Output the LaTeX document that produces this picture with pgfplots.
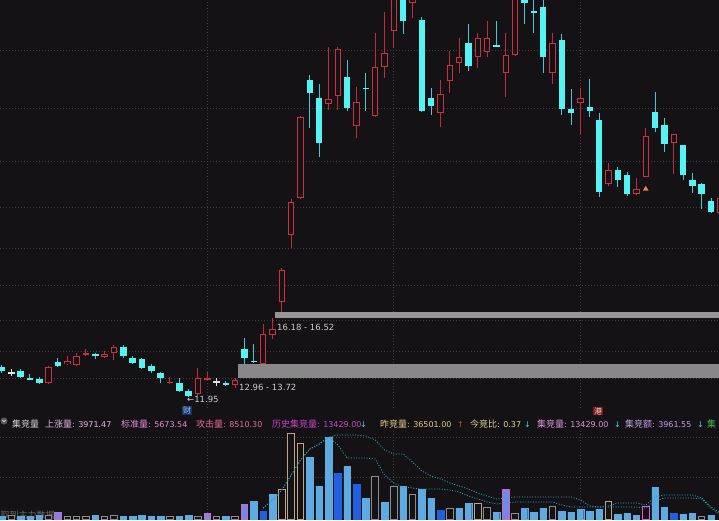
\documentclass[border=0pt]{standalone}
\usepackage{fontspec}
\setmainfont{DejaVu Sans}
\newfontfamily\cjk{Noto Sans CJK SC}
\usepackage{pgfplots}
\usepackage{pgfplotstable}
\pgfplotsset{compat=1.18}

\definecolor{bg}{RGB}{20,18,20}
\definecolor{gridc}{RGB}{62,62,62}
\definecolor{redc}{RGB}{205,48,64}
\definecolor{redw}{RGB}{190,45,60}
\definecolor{cyanc}{RGB}{84,244,244}
\definecolor{cyanw}{RGB}{70,200,210}
\definecolor{whitec}{RGB}{225,225,225}
\definecolor{band1}{RGB}{136,136,136}
\definecolor{band2}{RGB}{150,150,150}
\definecolor{annot}{RGB}{205,205,205}
\definecolor{vlight}{RGB}{95,170,225}
\definecolor{vdark}{RGB}{35,95,225}
\definecolor{vgray}{RGB}{140,140,140}
\definecolor{vtan}{RGB}{190,165,135}
\definecolor{vpink}{RGB}{220,95,200}
\definecolor{vpinkfill}{RGB}{110,140,230}
\definecolor{linec}{RGB}{45,165,185}
\definecolor{nodata}{RGB}{105,105,105}
\definecolor{orangec}{RGB}{240,135,70}
\definecolor{caibg}{RGB}{25,55,100}
\definecolor{caifg}{RGB}{150,195,250}
\definecolor{gangbg}{RGB}{125,22,22}
\definecolor{gangfg}{RGB}{245,215,215}
\definecolor{iconbg}{RGB}{85,85,85}
\definecolor{iconfg}{RGB}{210,210,210}
\definecolor{tA}{RGB}{215,215,215}
\definecolor{tB}{RGB}{235,180,230}
\definecolor{tC}{RGB}{230,140,210}
\definecolor{tD}{RGB}{235,105,150}
\definecolor{tE}{RGB}{200,70,200}
\definecolor{tF}{RGB}{225,205,140}
\definecolor{tG}{RGB}{225,210,150}
\definecolor{tH}{RGB}{220,150,225}
\definecolor{tI}{RGB}{195,160,235}
\definecolor{tJ}{RGB}{60,190,80}
\definecolor{arrdn}{RGB}{70,210,230}
\definecolor{arrup}{RGB}{230,60,60}

% candles: index, open, high, low, close
\pgfplotstableread{
i o h l c
5 12.69 13.61 12.63 13.55
7 13.71 14.15 13.66 13.88
8 13.66 14.31 13.61 14.15
9 14.20 14.53 14.15 14.31
11 14.09 14.42 14.04 14.26
12 14.31 14.74 13.93 14.63
18 12.69 13.01 12.63 12.74
21 12.09 13.50 11.99 12.96
22 12.90 13.28 12.85 12.96
25 12.58 12.96 12.42 12.85
28 13.74 15.88 13.73 15.34
29 15.28 16.18 15.07 15.61
30 17.07 18.90 16.52 18.80
31 20.69 22.63 19.98 22.47
32 22.69 27.12 22.63 27.07
35 27.77 30.85 27.44 28.04
36 28.20 30.85 27.44 30.74
38 26.58 28.69 25.93 27.88
40 27.12 31.61 27.07 29.77
41 29.77 32.74 29.17 30.53
42 31.71 34.47 30.80 33.93
44 33.23 33.82 32.42 33.61
47 27.28 29.07 26.53 28.31
48 29.01 30.63 28.36 29.88
49 29.98 31.34 29.44 30.31
51 30.31 31.61 29.71 31.34
52 30.58 32.26 30.31 31.34
54 29.44 31.61 28.15 30.42
55 30.42 34.74 30.36 34.20
59 29.44 31.61 28.85 31.07
62 27.82 28.63 26.15 28.09
65 23.44 24.58 23.34 24.20
68 22.90 23.77 22.85 23.17
69 23.82 26.47 23.82 26.04
72 25.66 26.15 23.98 26.15
77 21.88 22.69 21.88 22.69
}\up

\pgfplotstableread{
i o h l c
0 13.55 13.66 13.23 13.34
2 13.34 13.44 12.96 13.01
3 12.96 13.17 12.85 12.90
4 12.90 13.01 12.63 12.69
6 13.82 14.04 13.55 13.61
10 14.20 14.31 13.98 14.20
13 14.63 14.74 14.04 14.15
14 14.04 14.15 13.71 13.77
15 13.98 14.04 13.44 13.50
16 13.61 13.71 13.23 13.34
17 13.23 13.28 12.69 12.96
19 12.69 12.96 12.20 12.25
20 12.25 12.36 11.95 11.98
24 12.69 12.80 12.52 12.58
26 14.53 15.12 13.72 14.04
27 13.88 14.80 13.77 13.82
33 29.07 29.34 26.47 28.36
34 28.09 28.85 24.90 25.66
37 29.23 30.15 27.39 27.55
39 28.63 29.44 27.39 28.63
43 33.66 33.93 31.55 32.26
45 32.31 32.47 27.34 27.39
46 28.09 28.63 27.17 27.66
50 31.07 32.09 29.55 29.82
53 30.96 32.26 30.85 30.85
56 33.66 33.93 32.09 33.23
57 32.80 33.66 31.61 32.69
58 33.01 33.55 29.44 30.31
60 31.23 31.55 27.17 27.50
61 27.50 28.58 26.63 27.28
63 27.61 29.12 27.07 27.39
64 26.90 27.28 22.74 23.01
66 24.20 24.36 23.28 23.66
67 23.93 24.09 22.80 22.90
70 27.34 28.42 26.25 26.47
71 26.63 27.01 25.17 25.61
73 25.55 25.55 23.66 23.93
74 23.66 24.04 22.96 23.34
75 23.44 23.50 22.09 22.90
76 22.52 22.69 21.88 21.93
}\down

\pgfplotstableread{
i o h l c
1 13.23 13.44 13.07 13.23
23 12.74 12.96 12.52 12.74
}\doji

% auction volume (thousand lots)
\pgfplotstableread{
i v
0 10.2
2 10.2
3 10.2
4 13.6
10 13.6
13 10.2
14 10.2
15 13.6
16 10.2
17 10.2
19 10.2
20 13.6
24 10.2
27 61.2
29 85.0
33 210.8
34 112.2
35 278.8
37 180.2
39 71.4
41 57.8
43 112.2
45 102.0
46 71.4
49 37.4
50 54.4
53 23.8
56 37.4
57 23.8
58 37.4
60 27.2
61 23.8
62 34.0
63 27.2
64 34.0
66 17.0
67 20.4
68 13.6
70 108.8
71 40.8
73 17.0
74 20.4
76 13.6
}\vlightt

\pgfplotstableread{
i v
28 27.2
36 156.4
38 119.0
47 30.6
72 20.4
}\vdarkt

\pgfplotstableread{
i v
1 13.6
5 13.6
7 10.2
8 10.2
9 10.2
11 10.2
12 13.6
18 10.2
21 10.2
23 10.2
25 10.2
40 146.2
42 112.2
44 85.0
48 37.4
52 40.8
55 20.4
59 44.2
75 10.2
}\vgrayt

\pgfplotstableread{
i v
30 102.0
31 292.4
32 258.4
51 54.4
65 61.2
}\vtant

\pgfplotstableread{
i v
6 23.8
22 20.4
26 51.0
54 102.0
}\vpinkt

\pgfplotstableread{
i a b
28 37.4 37.4
29 64.6 64.6
30 98.6 98.6
31 149.6 149.6
32 200.6 200.6
33 238.0 238.0
34 255.0 255.0
35 278.8 278.8
36 285.6 251.6
37 285.6 207.4
38 285.6 207.4
39 282.2 207.4
40 268.6 204.0
41 234.6 149.6
42 221.0 122.4
43 221.0 108.8
44 193.8 105.4
45 163.2 102.0
46 146.2 102.0
47 136.0 102.0
48 122.4 98.6
49 112.2 91.8
50 102.0 78.2
51 88.4 68.0
52 78.2 57.8
53 68.0 51.0
54 71.4 54.4
55 74.8 57.8
56 74.8 57.8
57 74.8 57.8
58 74.8 57.8
59 74.8 57.8
60 74.8 47.6
61 74.8 40.8
62 64.6 40.8
63 44.2 40.8
64 40.8 40.8
65 44.2 40.8
66 54.4 40.8
67 54.4 40.8
68 54.4 40.8
69 47.6 37.4
70 74.8 61.2
71 81.6 71.4
72 81.6 71.4
73 81.6 71.4
74 81.6 71.4
75 71.4 68.0
76 40.8 37.4
77 20.4 13.6
}\avg

\pgfplotsset{
  stick/.style 2 args={draw=none, mark=none, forget plot,
    error bars/y dir=both, error bars/y explicit, error bars/error mark=none,
    error bars/error bar style={draw=#1, line width=#2, solid}},
  vbar/.style={ybar, bar width=6.5pt, bar shift=0pt, forget plot},
}
\newcommand\zh[1]{{\fontsize{9}{9}\selectfont\cjk #1}}

\begin{document}
\begin{tikzpicture}[lab/.style={anchor=base west, inner sep=0pt}]
\path[use as bounding box, fill=bg] (0pt,0pt) rectangle (719pt,520pt);

\node[lab, text=nodata, font=\fontsize{9}{10}\selectfont\cjk] at (0.5pt,2pt) {取到主力数据};

% price panel
\begin{axis}[at={(0pt,112pt)}, anchor=south west, width=719pt, height=408pt, scale only axis,
  xmin=-0.214, xmax=76.85, ymin=11.336, ymax=33.39,
  axis line style={draw=none}, major tick length=0pt, xticklabels={}, yticklabels={},
  xtick={22,42,62}, ytick={12.94,14.42,16.07,17.96,19.99,22.20,24.69,27.55,30.69},
  grid=major, major grid style={gridc, dash pattern=on 1pt off 2pt, line width=0.8pt}]
\addplot[fill=band1, draw=none, forget plot] coordinates {(25.25,12.96) (78,12.96) (78,13.72) (25.25,13.72)} -- cycle;
\addplot[fill=band2, draw=none, forget plot] coordinates {(29.3,16.18) (78,16.18) (78,16.52) (29.3,16.52)} -- cycle;
% wicks
\addplot[stick={redw}{1pt}] table[x=i, y expr={(\thisrow{h}+\thisrow{l})/2}, y error expr={(\thisrow{h}-\thisrow{l})/2}] {\up};
\addplot[stick={cyanw}{1pt}] table[x=i, y expr={(\thisrow{h}+\thisrow{l})/2}, y error expr={(\thisrow{h}-\thisrow{l})/2}] {\down};
\addplot[stick={whitec}{1pt}] table[x=i, y expr={(\thisrow{h}+\thisrow{l})/2}, y error expr={(\thisrow{h}-\thisrow{l})/2}] {\doji};
% bodies
\addplot[stick={cyanc}{6.5pt}] table[x=i, y expr={(\thisrow{o}+\thisrow{c})/2}, y error expr={max(abs(\thisrow{o}-\thisrow{c})/2,0.03)}] {\down};
\addplot[stick={whitec}{6.5pt}] table[x=i, y expr={(\thisrow{o}+\thisrow{c})/2}, y error expr={max(abs(\thisrow{o}-\thisrow{c})/2,0.03)}] {\doji};
\addplot[stick={redc}{6.5pt}] table[x=i, y expr={(\thisrow{o}+\thisrow{c})/2}, y error expr={max(abs(\thisrow{o}-\thisrow{c})/2,0.03)}] {\up};
\addplot[stick={bg}{4.5pt}, restrict expr to domain={\thisrow{c}-\thisrow{o}}{0.15:100}] table[x=i, y expr={(\thisrow{o}+\thisrow{c})/2}, y error expr={(\thisrow{c}-\thisrow{o})/2-0.054}] {\up};
\addplot[only marks, mark=triangle*, mark size=2.8pt, color=orangec, forget plot] coordinates {(69,23.17)};
\end{axis}

% auction volume panel
\begin{axis}[at={(0pt,1pt)}, anchor=south west, width=719pt, height=89pt, scale only axis,
  xmin=-0.214, xmax=76.85, ymin=0, ymax=302.6,
  axis line style={draw=none}, major tick length=0pt, xticklabels={}, yticklabels={},
  xtick={22,42,62}, ytick={142.8,278.8},
  grid=major, major grid style={gridc, dash pattern=on 1pt off 2pt, line width=0.8pt}]
\addplot[vbar, fill=vlight, draw=vlight] table[x=i, y=v] {\vlightt};
\addplot[vbar, fill=vdark, draw=vdark] table[x=i, y=v] {\vdarkt};
\addplot[vbar, fill=bg, draw=vgray, line width=1pt] table[x=i, y=v] {\vgrayt};
\addplot[vbar, fill=bg, draw=vtan, line width=1pt] table[x=i, y=v] {\vtant};
\addplot[vbar, fill=vpinkfill, draw=vpink, line width=1pt] table[x=i, y=v] {\vpinkt};
\addplot[vbar, fill=bg, draw=vpink, line width=1pt] coordinates {(69,44.2)};
\addplot[linec, line width=0.8pt, dash pattern=on 1pt off 1.6pt, forget plot] table[x=i, y=a] {\avg};
\addplot[linec, line width=0.8pt, dash pattern=on 1pt off 1.6pt, forget plot] table[x=i, y=b] {\avg};
\end{axis}

% annotations
\node[lab, text=annot, font=\fontsize{8.5}{9}\selectfont] at (187pt,118pt) {←11.95};
\node[lab, text=annot, font=\fontsize{8.5}{9}\selectfont] at (239pt,130pt) {12.96 - 13.72};
\node[lab, text=annot, font=\fontsize{8.5}{9}\selectfont] at (277pt,190pt) {16.18 - 16.52};
\node[fill=caibg, text=caifg, inner sep=0.8pt, font=\fontsize{8}{8}\selectfont\cjk] at (187pt,109.5pt) {财};
\node[fill=gangbg, text=gangfg, inner sep=0.8pt, font=\fontsize{8}{8}\selectfont\cjk] at (598pt,109pt) {港};

% indicator line
\fill[iconbg] (4pt,99pt) circle (3.6pt);
\draw[iconfg, line width=0.8pt] (2.3pt,100pt) -- (4pt,98.2pt) -- (5.7pt,100pt);
\begin{scope}[every node/.style={lab, font=\fontsize{8}{9}\selectfont}]
\node[text=tA] at (12pt,92.5pt) {\zh{集竞量}};
\node[text=tB] at (45pt,92.5pt) {\zh{上涨量}: 3971.47};
\node[text=tC] at (121pt,92.5pt) {\zh{标准量}: 5673.54};
\node[text=tD] at (196pt,92.5pt) {\zh{攻击量}: 8510.30};
\node[text=tE] at (272pt,92.5pt) {\zh{历史集竞量}: 13429.00};
\node[text=arrdn] at (360pt,92.5pt) {↓};
\node[text=tF] at (380pt,92.5pt) {\zh{昨竞量}: 36501.00};
\node[text=arrup] at (457pt,92.5pt) {↑};
\node[text=tG] at (470pt,92.5pt) {\zh{今竞比}: 0.37};
\node[text=arrdn] at (524pt,92.5pt) {↓};
\node[text=tH] at (537pt,92.5pt) {\zh{集竞量}: 13429.00};
\node[text=arrdn] at (614pt,92.5pt) {↓};
\node[text=tI] at (625pt,92.5pt) {\zh{集竞额}: 3961.55};
\node[text=arrdn] at (697pt,92.5pt) {↓};
\node[text=tJ] at (707pt,92.5pt) {\zh{集}};
\end{scope}
\end{tikzpicture}
\end{document}
